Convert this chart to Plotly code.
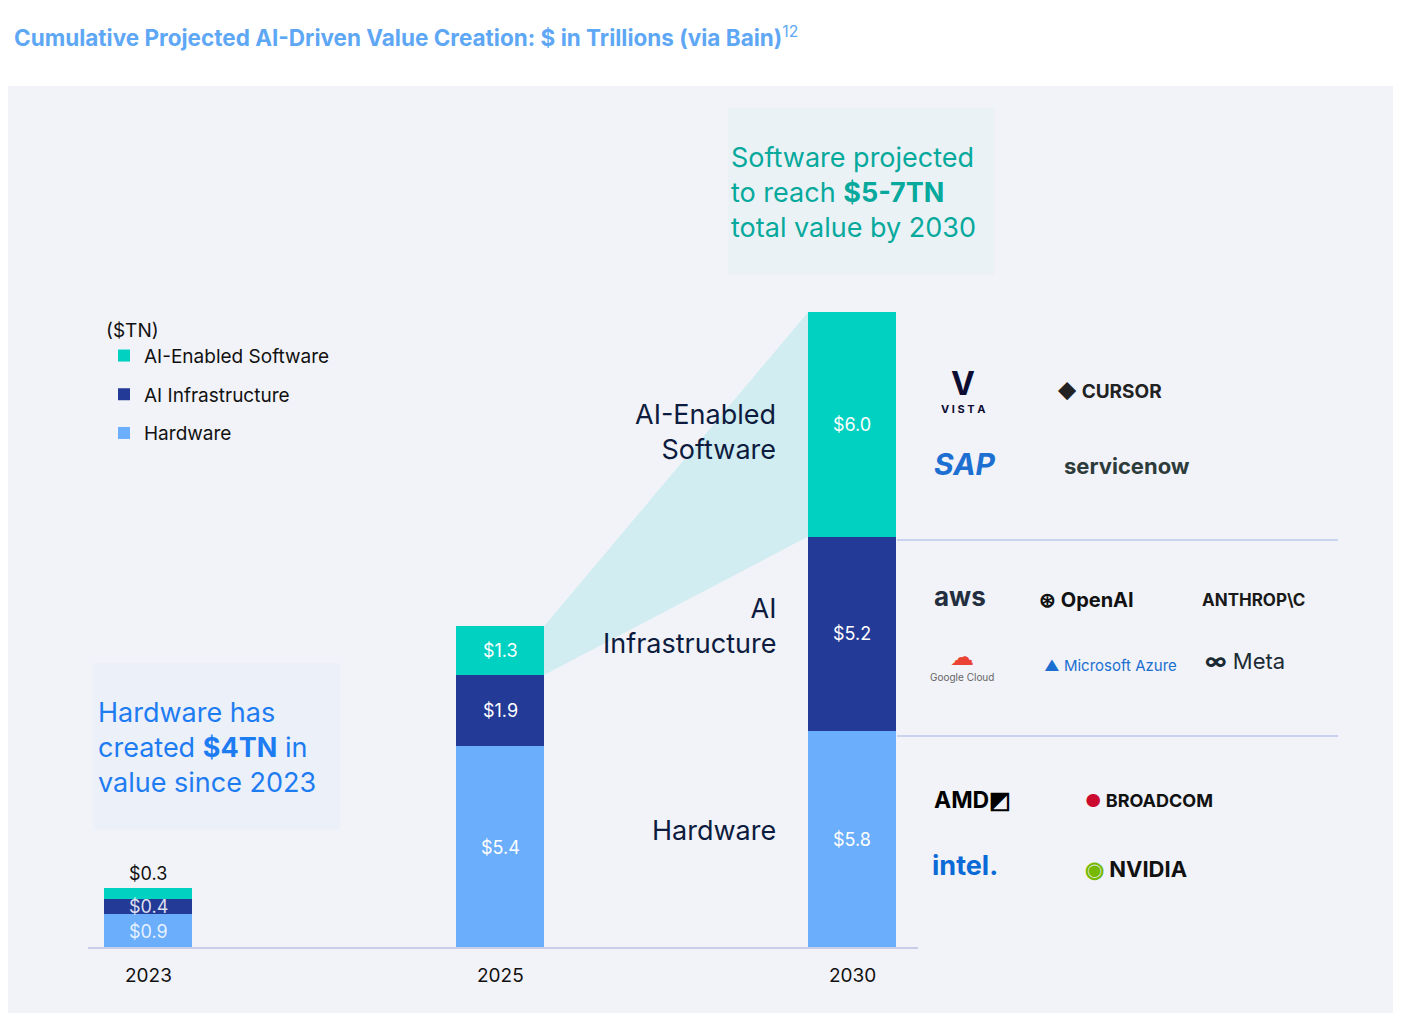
import plotly.graph_objects as go

years = ["2023", "2025", "2030"]
hardware = [0.9, 5.4, 5.8]
infrastructure = [0.4, 1.9, 5.2]
software = [0.3, 1.3, 6.0]

series_names = ["Hardware", "AI Infrastructure", "AI-Enabled Software"]
colors = ["#6aaefc", "#233a97", "#00d1c1"]

W, H = 1401, 1013
OFF = 8  # page draws the figure 8px in from the corner
FONT = "Inter, Lato, sans-serif"


def px(x, y):
    return (x - OFF) / W, 1 - (y - OFF) / H


fig = go.Figure()
xs = list(range(len(years)))
for k, (name, vals, col) in enumerate(zip(series_names, [hardware, infrastructure, software], colors)):
    fig.add_trace(go.Bar(x=xs, y=vals, name=name, marker_color=col, width=0.25,
                         legendgroup=name, legendrank=3 - k, marker_line_width=0, hoverinfo="skip"))

# wedge linking 2025 software to 2030 software
top25 = hardware[1] + infrastructure[1] + software[1]
bot25 = hardware[1] + infrastructure[1]
top30 = hardware[2] + infrastructure[2] + software[2]
bot30 = hardware[2] + infrastructure[2]
fig.add_trace(go.Scatter(x=[1.125, 1.875, 1.875, 1.125, 1.125],
                         y=[top25, top30, bot30, bot25, top25],
                         fill="toself", fillcolor="rgba(0,200,190,0.13)",
                         line_width=0, mode="lines", showlegend=False, hoverinfo="skip"))

# value labels
for i in xs:
    stack = [hardware[i], infrastructure[i], software[i]]
    base = 0
    for j, v in enumerate(stack):
        mid = base + v / 2
        if i == 0 and j == 2:
            fig.add_annotation(x=i, y=base + v, text=f"${v:.1f}", showarrow=False,
                               yanchor="bottom", yshift=2, font=dict(size=18, color="#111"))
        else:
            fig.add_annotation(x=i, y=mid, text=f"${v:.1f}", showarrow=False,
                               font=dict(size=18, color="white" if i else "rgba(255,255,255,0.85)"))
        base += v
    fig.add_annotation(x=i, y=0, text=years[i], showarrow=False, yanchor="top", yshift=-14,
                       font=dict(size=19, color="#111"))


def box(x0, y0, x1, y1, color):
    a0, b0 = px(x0, y1)
    a1, b1 = px(x1, y0)
    return dict(type="rect", xref="paper", yref="paper", x0=a0, x1=a1, y0=b0, y1=b1,
                fillcolor=color, line_width=0, layer="below")


def hline(x0, x1, y, color):
    a0, b = px(x0, y)
    a1, _ = px(x1, y)
    return dict(type="line", xref="paper", yref="paper", x0=a0, x1=a1, y0=b, y1=b,
                line=dict(color=color, width=2))


shapes = [
    box(4, 86, 1398, 1030, "#f1f3f8"),
    box(728, 108, 994, 275, "rgba(0,200,190,0.025)"),
    box(94, 663, 340, 830, "rgba(100,150,255,0.03)"),
    hline(88, 918, 948, "#c9cdea"),
    hline(897, 1338, 540, "#c9d3f0"),
    hline(897, 1338, 736, "#c9d3f0"),
]


def note(x, y, text, size, color="#0d1b3e", xanchor="left", align="left", yanchor="middle"):
    ax, ay = px(x, y)
    fig.add_annotation(xref="paper", yref="paper", x=ax, y=ay, text=text, showarrow=False,
                       xanchor=xanchor, yanchor=yanchor, align=align,
                       font=dict(size=size, color=color, family=FONT))


note(12, 37, "<b>Cumulative Projected AI-Driven Value Creation: $ in Trillions (via Bain)</b><sup>12</sup>",
     22.5, color="#5ea7f5")
note(729, 192, "Software projected<br>to reach <b>$5-7TN</b><br>total value by 2030", 27,
     color="#06a99c")
note(96, 747, "Hardware has<br>created <b>$4TN</b> in<br>value since 2023", 27, color="#1e7cf2")
note(778, 432, "AI-Enabled<br>Software", 27, xanchor="right", align="right")
note(778, 626, "AI<br>Infrastructure", 27, xanchor="right", align="right")
note(778, 830, "Hardware", 27, xanchor="right", align="right")

# company names
note(963, 384, "<b>V</b>", 32, color="#0d0d33", xanchor="center")
note(963, 409, "<b>V I S T A</b>", 11, color="#0d0d33", xanchor="center")
note(1055, 391, "<b>◆ CURSOR</b>", 19, color="#222")
note(932, 464, "<b><i>SAP</i></b>", 30, color="#1d6fd1")
note(1062, 466, "<b>servicenow</b>", 22, color="#2d3b3b")
note(932, 596, "<b>aws</b>", 26, color="#232f3e")
note(1037, 600, "<b>⊛ OpenAI</b>", 20, color="#111")
note(1200, 600, "<b>ANTHROP\\C</b>", 17, color="#191919")
note(962, 656, "☁", 24, color="#ea4335", xanchor="center")
note(962, 677, "Google Cloud", 10, color="#666", xanchor="center")
note(1042, 665, "<b>▲</b> Microsoft Azure", 15, color="#1a6fd0")
note(1203, 661, "<b>∞</b> Meta", 22, color="#1c2b33")
note(932, 800, "<b>AMD◩</b>", 23, color="#000")
note(1083, 800, "<b><span style='color:#cc092f'>●</span> BROADCOM</b>", 18, color="#111")
note(930, 865, "<b>intel.</b>", 27, color="#0a6ad6")
note(1083, 869, "<b><span style='color:#76b900'>◉</span> NVIDIA</b>", 22, color="#111")

lx, ly = px(104, 312)
fig.update_layout(
    width=W, height=H, barmode="stack", plot_bgcolor="rgba(0,0,0,0)", paper_bgcolor="white",
    margin=dict(l=0, r=0, t=0, b=0), shapes=shapes,
    font=dict(family=FONT, size=18, color="#111"),
    xaxis=dict(range=[-(148 - OFF) / 352, (W - 148 + OFF) / 352], visible=False, fixedrange=True),
    yaxis=dict(range=[-(H - 948 + OFF) / 37.4, (948 - OFF) / 37.4], visible=False, fixedrange=True),
    legend=dict(x=lx, y=ly, xanchor="left", yanchor="top", traceorder="grouped",
                title=dict(text="($TN)", font=dict(size=19)), font=dict(size=19, color="#111"),
                bgcolor="rgba(0,0,0,0)", itemwidth=30, tracegroupgap=11),
    showlegend=True,
)

fig.write_html("out.html")
